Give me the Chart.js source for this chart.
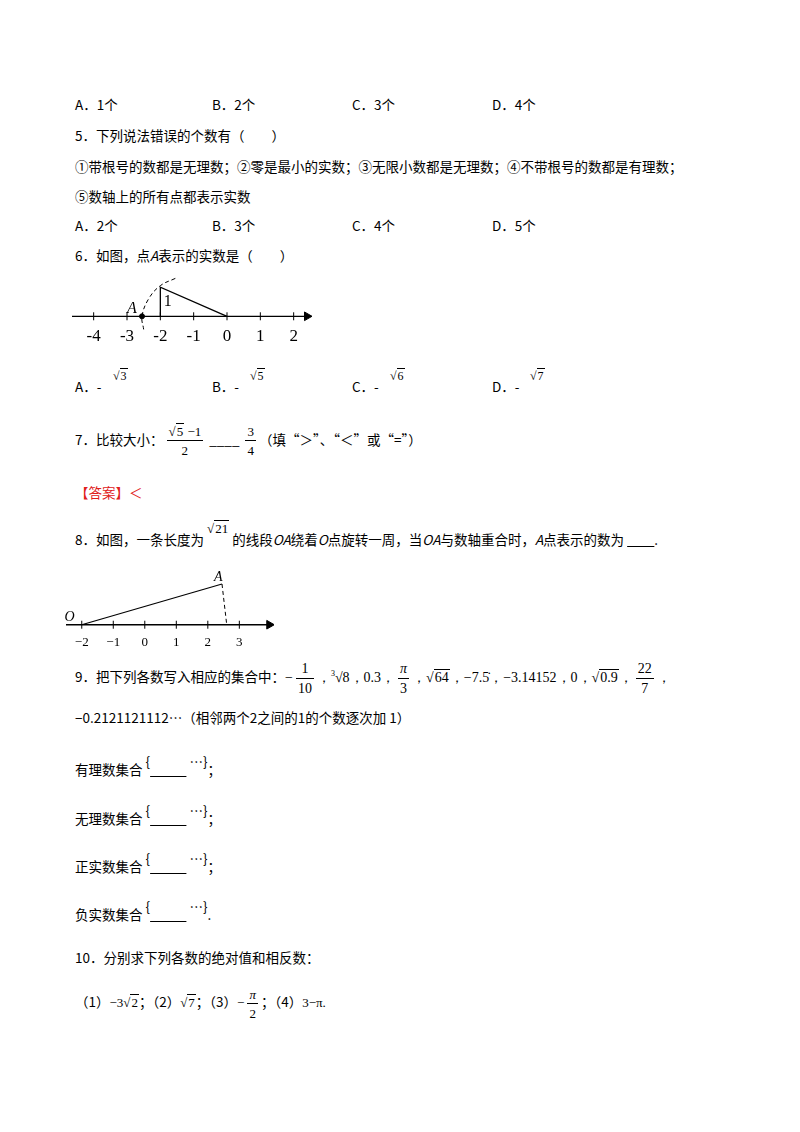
<!DOCTYPE html>
<html><head><meta charset="utf-8">
<script src="https://cdn.jsdelivr.net/npm/chart.js@4"></script>
<style>
body{margin:0;width:800px;height:1132px;background:#fff;position:relative;font-family:"Liberation Serif","Noto Sans CJK SC",serif;font-size:14px;color:#000}
.t{position:absolute;white-space:nowrap;line-height:1}
.cn{font-family:"Noto Sans CJK SC",sans-serif;font-size:13.5px}
.fr{display:inline-block;vertical-align:middle;text-align:center;font-size:13px;margin:0 3px;white-space:nowrap}
.fr>span{display:block;padding:0 2px;white-space:nowrap}
.fr>span:first-child{border-bottom:1px solid #000;padding-bottom:2px}
.fr>span:last-child{padding-top:3px}
.sq{border-top:1px solid #000;padding:0 1px}
.m{font-family:"Liberation Serif",serif;font-size:13px}
.wrap{position:absolute}
</style></head><body>
<div class="t cn" style="left:75px;top:98px">A．1个</div>
<div class="t cn" style="left:212px;top:98px">B．2个</div>
<div class="t cn" style="left:352px;top:98px">C．3个</div>
<div class="t cn" style="left:492px;top:98px">D．4个</div>
<div class="t cn" style="left:75px;top:129px">5．下列说法错误的个数有（　　）</div>
<div class="t cn" style="left:75px;top:160px">①带根号的数都是无理数；②零是最小的实数；③无限小数都是无理数；④不带根号的数都是有理数；</div>
<div class="t cn" style="left:75px;top:190px">⑤数轴上的所有点都表示实数</div>
<div class="t cn" style="left:75px;top:219px">A．2个</div>
<div class="t cn" style="left:212px;top:219px">B．3个</div>
<div class="t cn" style="left:352px;top:219px">C．4个</div>
<div class="t cn" style="left:492px;top:219px">D．5个</div>
<div class="t cn" style="left:75px;top:249px">6．如图，点<i>A</i>表示的实数是（　　）</div>
<div class="wrap" style="left:66px;top:268px;width:252px;height:82px"><canvas id="c1"></canvas></div>
<div class="t cn" style="left:75px;top:380px">A．-</div><div class="t" style="left:113px;top:370px;font-size:12px">√<span class="sq">3</span></div>
<div class="t cn" style="left:212px;top:380px">B．-</div><div class="t" style="left:250px;top:370px;font-size:12px">√<span class="sq">5</span></div>
<div class="t cn" style="left:352px;top:380px">C．-</div><div class="t" style="left:390px;top:370px;font-size:12px">√<span class="sq">6</span></div>
<div class="t cn" style="left:492px;top:380px">D．-</div><div class="t" style="left:530px;top:370px;font-size:12px">√<span class="sq">7</span></div>
<div class="t cn" style="left:75px;top:425px">7．比较大小：<span class="fr m"><span>√<span class="sq">5</span> −1</span><span>2</span></span> ____ <span class="fr m"><span>3</span><span>4</span></span>（填“＞”、“＜”或“=”）</div>
<div class="t cn" style="left:75px;top:486px;color:#e0201a">【答案】＜</div>
<div class="t cn" style="left:75px;top:533px">8．如图，一条长度为 <span class="m" style="position:relative;top:-12px">√<span class="sq">21</span></span> 的线段<i>OA</i>绕着<i>O</i>点旋转一周，当<i>OA</i>与数轴重合时，<i>A</i>点表示的数为 <u>&nbsp;&nbsp;&nbsp;&nbsp;&nbsp;&nbsp;&nbsp;&nbsp;&nbsp;</u>.</div>
<div class="wrap" style="left:60px;top:562px;width:220px;height:92px"><canvas id="c2"></canvas></div>
<div class="t cn" style="left:75px;top:662px">9．把下列各数写入相应的集合中：<span class="m" style="font-size:14px;word-spacing:2px">−<span class="fr" style="font-size:14px"><span>1</span><span>10</span></span>，<sup style="font-size:8px">3</sup>√8，0.3，<span class="fr" style="font-size:14px"><span><i>π</i></span><span>3</span></span>，√<span class="sq">64</span>，−7.5̇，−3.14152，0，√<span class="sq">0.9</span>，<span class="fr" style="font-size:14px"><span>22</span><span>7</span></span>，</span></div>
<div class="t cn" style="left:75px;top:711px">−0.2121121112…（相邻两个2之间的1的个数逐次加 1）</div>
<div class="t cn" style="left:75px;top:763px">有理数集合 <span style="position:relative;top:-8px">{</span><u>&nbsp;&nbsp;&nbsp;&nbsp;&nbsp;&nbsp;&nbsp;&nbsp;&nbsp;&nbsp;&nbsp;&nbsp;</u> <span style="position:relative;top:-8px">…}</span>；</div>
<div class="t cn" style="left:75px;top:812px">无理数集合 <span style="position:relative;top:-8px">{</span><u>&nbsp;&nbsp;&nbsp;&nbsp;&nbsp;&nbsp;&nbsp;&nbsp;&nbsp;&nbsp;&nbsp;&nbsp;</u> <span style="position:relative;top:-8px">…}</span>；</div>
<div class="t cn" style="left:75px;top:860px">正实数集合 <span style="position:relative;top:-8px">{</span><u>&nbsp;&nbsp;&nbsp;&nbsp;&nbsp;&nbsp;&nbsp;&nbsp;&nbsp;&nbsp;&nbsp;&nbsp;</u> <span style="position:relative;top:-8px">…}</span>；</div>
<div class="t cn" style="left:75px;top:908px">负实数集合 <span style="position:relative;top:-8px">{</span><u>&nbsp;&nbsp;&nbsp;&nbsp;&nbsp;&nbsp;&nbsp;&nbsp;&nbsp;&nbsp;&nbsp;&nbsp;</u> <span style="position:relative;top:-8px">…}</span>.</div>
<div class="t cn" style="left:75px;top:951px">10．分别求下列各数的绝对值和相反数：</div>
<div class="t cn" style="left:75px;top:988px">（1）<span class="m">−3√<span class="sq">2</span></span>；（2）<span class="m">√<span class="sq">7</span></span>；（3）<span class="m">−<span class="fr"><span><i>π</i></span><span>2</span></span></span>；（4）<span class="m">3−π.</span></div>
<script>
// number line for question 6
const ticks1 = [-4, -3, -2, -1, 0, 1, 2];
const tickLabels1 = ['-4', '-3', '-2', '-1', '0', '1', '2'];
const triangle1 = [{x: -2, y: 0}, {x: -2, y: 1}, {x: 0, y: 0}];
const arc1 = [{x: -1.55, y: 1.3}, {x: -2, y: 1.05}, {x: -2.35, y: 0.6}, {x: -2.55, y: 0}, {x: -2.5, y: -0.45}];
const pointA1 = [{x: -2.55, y: 0}];

// number line for question 8
const ticks2 = [-2, -1, 0, 1, 2, 3];
const tickLabels2 = ['−2', '−1', '0', '1', '2', '3'];
const segOA = [{x: -2, y: 0}, {x: 2.45, y: 1.4}];
const dashA = [{x: 2.45, y: 1.4}, {x: 2.6, y: 0}];

// point letters on the diagrams
const letters = {
  id: 'letters',
  afterDraw(chart) {
    const {ctx, scales: {x, y}} = chart;
    ctx.save();
    ctx.fillStyle = '#000';
    if (chart.canvas.id === 'c1') {
      ctx.font = 'italic 16px "Liberation Serif"';
      ctx.fillText('A', x.getPixelForValue(-3.0), y.getPixelForValue(0.1));
      ctx.font = '16px "Liberation Serif"';
      ctx.fillText('1', x.getPixelForValue(-1.9), y.getPixelForValue(0.35));
    } else {
      ctx.font = 'italic 14px "Liberation Serif"';
      ctx.fillText('O', x.getPixelForValue(-2.55), y.getPixelForValue(0.12));
      ctx.fillText('A', x.getPixelForValue(2.2), y.getPixelForValue(1.5));
    }
    ctx.restore();
  },
};

function numberLine(id, xr, yr, ticks, labels, sets, fontSize) {
  const tickMarks = ticks.map(v => ({x: v, y: 0}));
  new Chart(document.getElementById(id), {
    type: 'scatter',
    data: {datasets: [
      {data: [{x: xr[0], y: 0}, {x: xr[1] - 0.1, y: 0}], showLine: true, borderColor: '#000', borderWidth: 1.3, pointRadius: 0},
      {data: [{x: xr[1] - 0.15, y: 0}], pointStyle: 'triangle', rotation: 90, radius: 5, backgroundColor: '#000', borderColor: '#000'},
      {data: tickMarks, pointStyle: 'line', rotation: 90, radius: 4, borderColor: '#000', borderWidth: 1},
      ...sets,
    ]},
    plugins: [letters],
    options: {
      animation: false, responsive: true, maintainAspectRatio: false,
      layout: {padding: 0},
      plugins: {legend: {display: false}, tooltip: {enabled: false}},
      scales: {
        x: {type: 'linear', min: xr[0], max: xr[1], position: {y: 0},
            grid: {display: false}, border: {display: false},
            afterBuildTicks: s => { s.ticks = ticks.map(v => ({value: v})); },
            ticks: {color: '#000', font: {size: fontSize, family: 'Liberation Serif'}, padding: 2,
                    callback: v => labels[ticks.indexOf(v)]}},
        y: {min: yr[0], max: yr[1], display: false},
      },
    },
  });
}

numberLine('c1', [-4.65, 2.55], [-0.95, 1.45], ticks1, tickLabels1, [
  {data: triangle1, showLine: true, borderColor: '#000', borderWidth: 1.3, pointRadius: 0},
  {data: arc1, showLine: true, borderColor: '#000', borderWidth: 1, borderDash: [4, 3], tension: 0.4, pointRadius: 0},
  {data: pointA1, pointRadius: 2.5, backgroundColor: '#000', borderColor: '#000'},
], 17);

numberLine('c2', [-2.5, 4.1], [-0.8, 1.95], ticks2, tickLabels2, [
  {data: segOA, showLine: true, borderColor: '#000', borderWidth: 1.2, pointRadius: 0},
  {data: dashA, showLine: true, borderColor: '#000', borderWidth: 1, borderDash: [4, 3], pointRadius: 0},
], 13);
</script>
</body></html>
